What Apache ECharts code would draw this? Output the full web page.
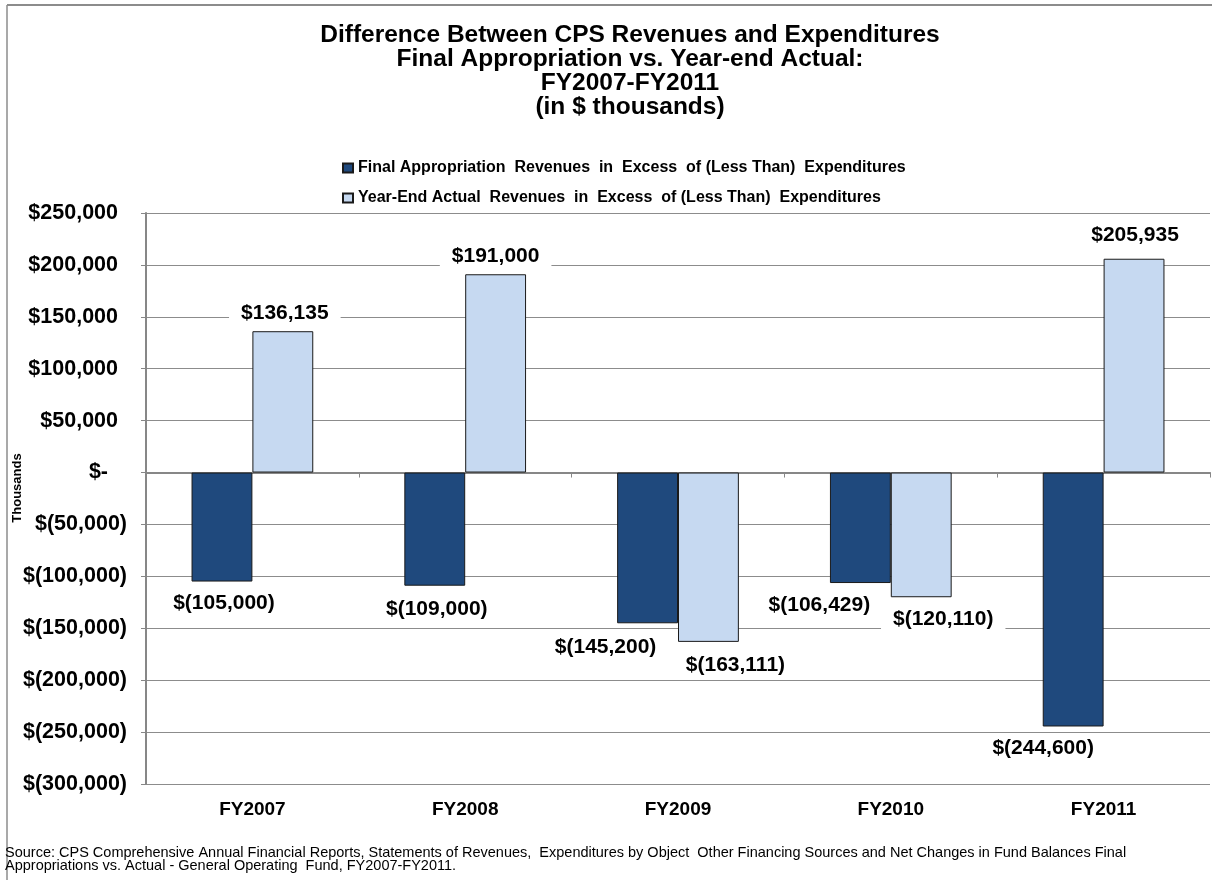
<!DOCTYPE html>
<html>
<head>
<meta charset="utf-8">
<script src="https://cdn.jsdelivr.net/npm/echarts@6/dist/echarts.min.js"></script>
<style>
html,body{margin:0;padding:0;background:#fff;}
#chart{width:1212px;height:880px;}
</style>
</head>
<body>
<div id="chart"></div>
<script>
// ---- data ----
const categories = ['FY2007', 'FY2008', 'FY2009', 'FY2010', 'FY2011'];
const seriesNames = [
  'Final Appropriation  Revenues  in  Excess  of (Less Than)  Expenditures',
  'Year-End Actual  Revenues  in  Excess  of (Less Than)  Expenditures'
];
const finalAppropriation = [-105000, -109000, -145200, -106429, -244600];
const yearEndActual = [136135, 191000, -163111, -120110, 205935];
const titleLines = [
  'Difference Between CPS Revenues and Expenditures',
  'Final Appropriation vs. Year-end Actual:',
  'FY2007-FY2011',
  '(in $ thousands)'
];
const sourceText = 'Source: CPS Comprehensive Annual Financial Reports, Statements of Revenues,  Expenditures by Object  Other Financing Sources and Net Changes in Fund Balances Final\nAppropriations vs. Actual - General Operating  Fund, FY2007-FY2011.';

// ---- label nudges (style, as in original manual placement) ----
const finalLabelShift = [[2, 10], [2, 11], [-42, 12], [-41, 10], [-30, 10]];
const actualLabelShift = [[2, -6], [0, -6], [27, 11], [22, 10], [1, -12]];

function money(v) {
  if (v === 0) return '$-';
  const s = Math.abs(v).toLocaleString('en-US');
  return v < 0 ? '$(' + s + ')' : '$' + s;
}

const FONT = '"Liberation Sans", Arial, sans-serif';
const labelBase = {
  show: true,
  position: 'outside',
  distance: 0,
  fontFamily: FONT,
  fontWeight: 'bold',
  fontSize: 21,
  lineHeight: 22,
  color: '#000',
  backgroundColor: '#fff',
  padding: [1, 12],
  formatter: p => money(p.value)
};

function buildData(values, shifts) {
  return values.map((v, i) => ({
    value: v,
    label: { position: v < 0 ? 'bottom' : 'top', offset: shifts[i] }
  }));
}

// accounting-style axis labels: positives padded for ")", zero padded more
function axisMoney(v) {
  if (v === 0) return '{t|$-}{z| }';
  if (v > 0) return '{t|' + money(v) + '}{p| }';
  return '{t|' + money(v) + '}';
}

const chart = echarts.init(document.getElementById('chart'), null, { renderer: 'canvas' });
chart.setOption({
  backgroundColor: '#fff',
  animation: false,
  textStyle: { fontFamily: FONT },
  grid: { left: 146, right: 2, top: 213, bottom: 96, containLabel: false },
  legend: {
    orient: 'vertical',
    left: 337,
    top: 154,
    itemWidth: 10,
    itemHeight: 9,
    itemGap: 12,
    icon: 'rect',
    textStyle: { fontFamily: FONT, fontWeight: 'bold', fontSize: 16, lineHeight: 18, color: '#000' },
    data: seriesNames
  },
  xAxis: [
    {
      type: 'category',
      data: categories,
      position: 'bottom',
      axisLine: { onZero: true, lineStyle: { color: '#878787', width: 2 } },
      axisTick: { show: true, length: 5, lineStyle: { color: '#878787', width: 1 } },
      axisLabel: { show: false },
      splitLine: { show: false }
    },
    {
      type: 'category',
      data: categories,
      position: 'bottom',
      axisLine: { show: false, onZero: false },
      axisTick: { show: false },
      axisLabel: { show: true, margin: 16, fontFamily: FONT, fontWeight: 'bold', fontSize: 19, color: '#000' },
      splitLine: { show: false }
    }
  ],
  yAxis: {
    type: 'value',
    min: -300000,
    max: 250000,
    interval: 50000,
    axisLine: { show: true, lineStyle: { color: '#878787', width: 2 } },
    axisTick: { show: true, length: 5, lineStyle: { color: '#878787' } },
    axisLabel: {
      margin: 19,
      fontFamily: FONT, fontWeight: 'bold', fontSize: 21.5, color: '#000',
      formatter: v => axisMoney(v),
      rich: {
        t: { fontFamily: FONT, fontWeight: 'bold', fontSize: 21.5, color: '#000' },
        p: { width: 9, fontSize: 21.5 },
        z: { width: 19, fontSize: 21.5 }
      }
    },
    splitLine: { show: true, lineStyle: { color: '#8c8c8c', width: 1 } }
  },
  series: [
    {
      name: seriesNames[0],
      type: 'bar',
      xAxisIndex: 0,
      barWidth: '28.6%',
      barGap: '0%',
      itemStyle: { color: '#1F497D', borderColor: '#1a1a1a', borderWidth: 1 },
      label: labelBase,
      z: 3,
      data: buildData(finalAppropriation, finalLabelShift)
    },
    {
      name: seriesNames[1],
      type: 'bar',
      xAxisIndex: 0,
      barWidth: '28.6%',
      barGap: '0%',
      itemStyle: { color: '#C6D9F1', borderColor: '#1a1a1a', borderWidth: 1 },
      label: labelBase,
      z: 3,
      data: buildData(yearEndActual, actualLabelShift)
    }
  ],
  graphic: [
    { type: 'line', shape: { x1: 7, y1: 5, x2: 1212, y2: 5 }, style: { stroke: '#8c8c8c', lineWidth: 2 }, silent: true },
    { type: 'line', shape: { x1: 7, y1: 5, x2: 7, y2: 880 }, style: { stroke: '#8c8c8c', lineWidth: 1.5 }, silent: true },
    {
      type: 'text', x: 630, y: 23,
      style: {
        text: titleLines.join('\n'),
        font: 'bold 24.5px ' + FONT,
        lineHeight: 24,
        textAlign: 'center',
        fill: '#000'
      }
    },
    {
      type: 'text', x: 17, y: 488, rotation: Math.PI / 2,
      style: {
        text: 'Thousands',
        font: 'bold 13px ' + FONT,
        textAlign: 'center',
        textVerticalAlign: 'middle',
        fill: '#000'
      }
    },
    {
      type: 'text', x: 5, y: 846,
      style: {
        text: sourceText,
        font: '14.5px ' + FONT,
        lineHeight: 13.5,
        fill: '#000'
      }
    }
  ]
});
</script>
</body>
</html>
